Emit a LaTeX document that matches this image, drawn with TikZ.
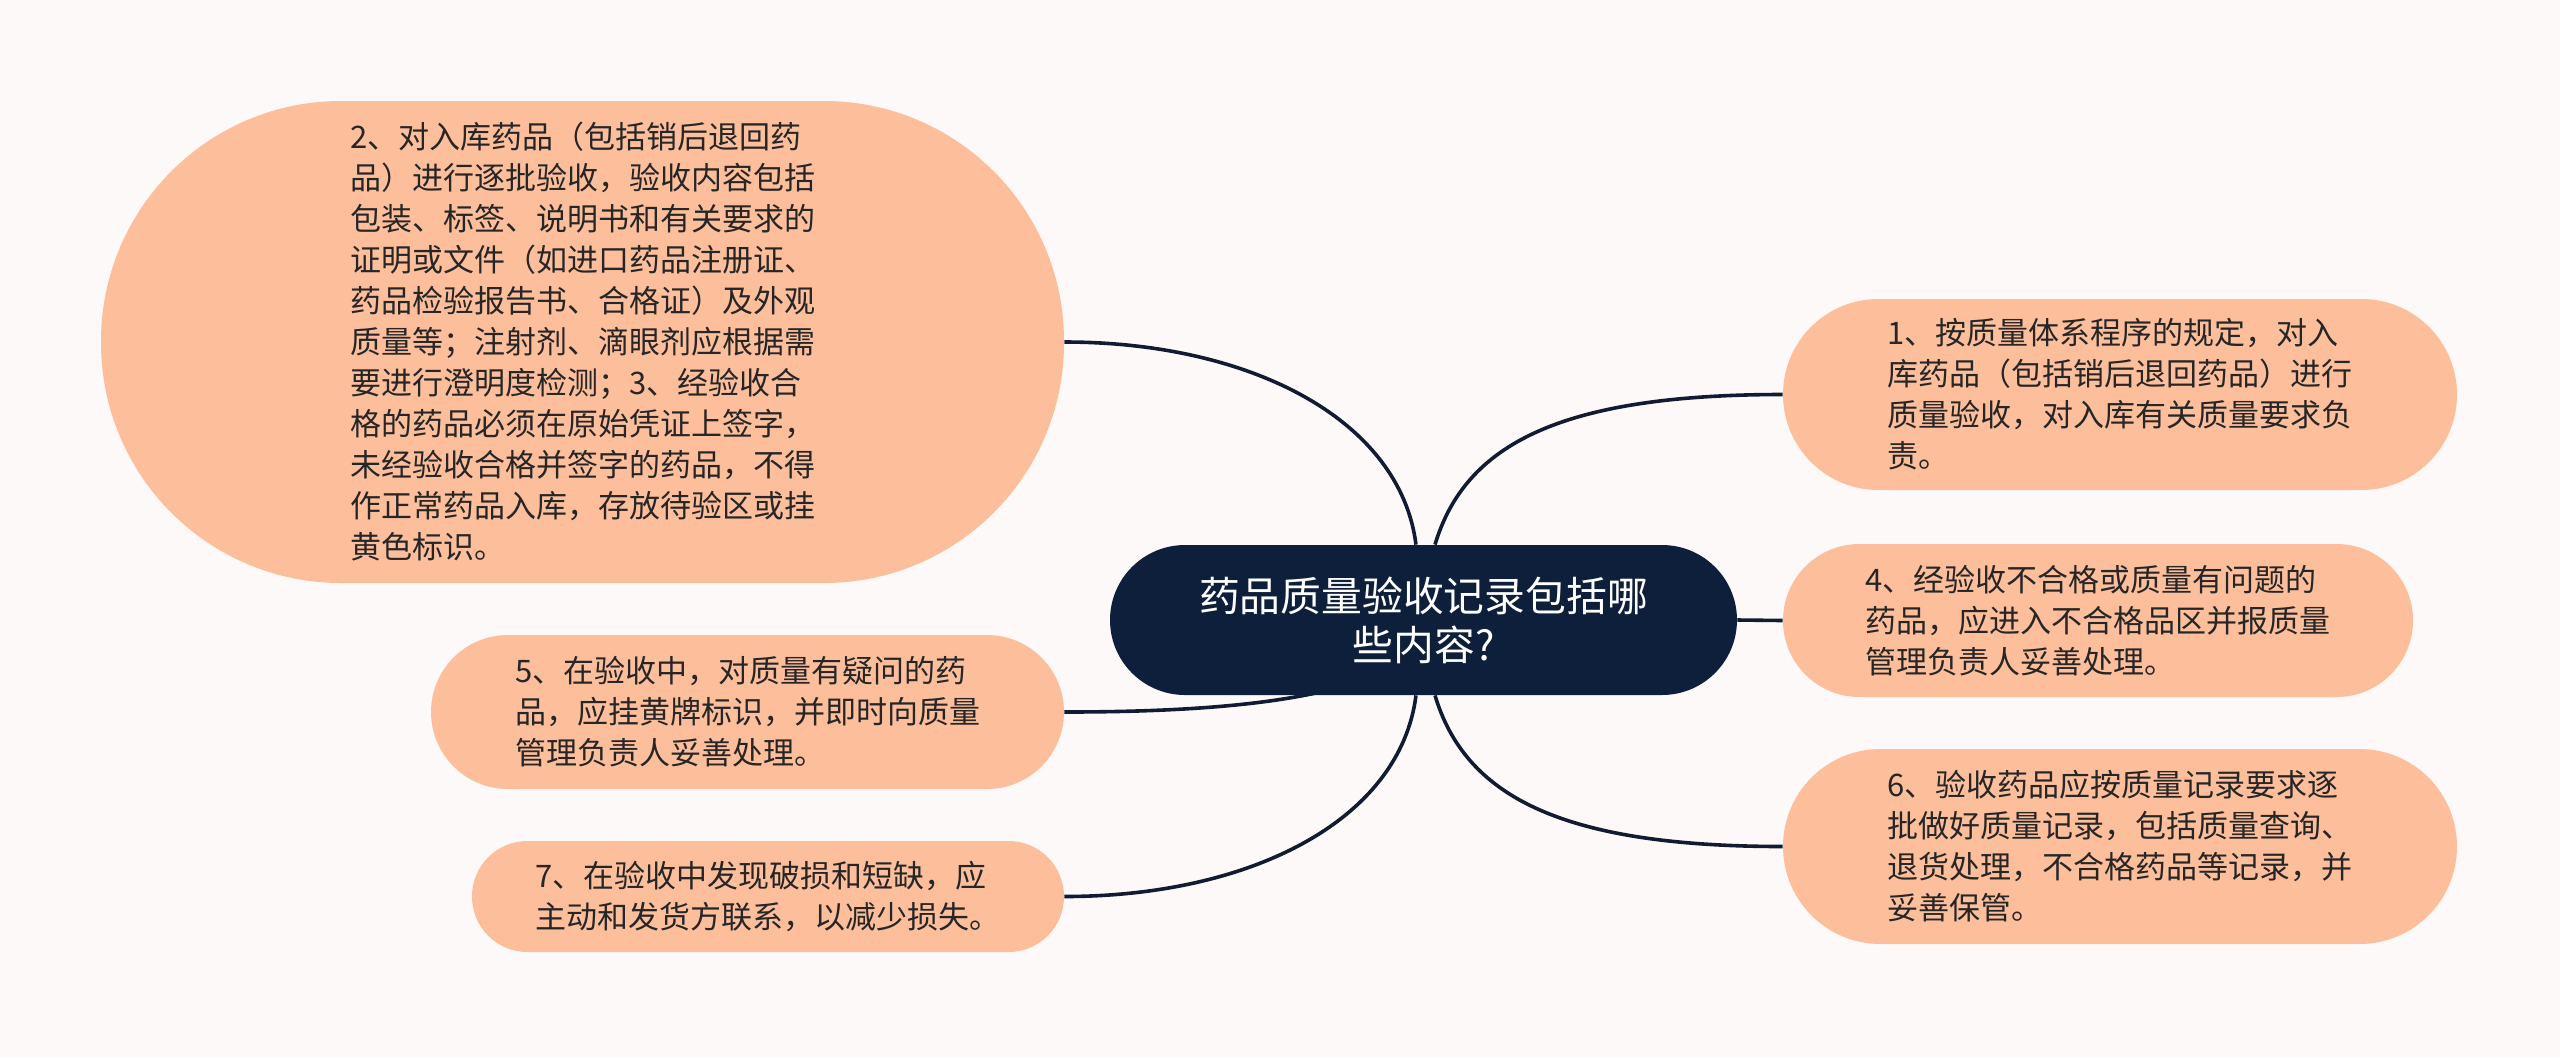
\documentclass[tikz,border=0pt]{standalone}
\usepackage{fontspec}
\newfontfamily\cjk{Noto Sans CJK SC}
\usetikzlibrary{backgrounds,calc}
\definecolor{bgc}{HTML}{FDF9F8}
\definecolor{peach}{HTML}{FDBE9C}
\definecolor{navy}{HTML}{0E1F3B}
\definecolor{linec}{HTML}{111C33}
\definecolor{txt}{HTML}{262626}
\begin{document}
\begin{tikzpicture}[x=0.5pt,y=-0.5pt,
  leaf/.style={rectangle, fill=peach, inner sep=0pt, align=left, text=txt,
    font=\cjk\fontsize{15.5}{20.5}\selectfont},
  root/.style={rectangle, fill=navy, inner sep=0pt, align=center, text=white,
    font=\cjk\fontsize{20.4}{24.5}\selectfont,
    minimum width=313.5pt, minimum height=75pt, rounded corners=37.5pt},
  link/.style={draw=linec, line width=1.8pt}]
\useasboundingbox (0,0) rectangle (2560,1057);

\node[root] (c) at (1423.5,620) {药品质量验收记录包括哪\\些内容?};

\node[leaf, minimum width=481.5pt, minimum height=241pt, rounded corners=120pt] (n2) at (582.5,342)
{2、对入库药品（包括销后退回药\\品）进行逐批验收，验收内容包括\\包装、标签、说明书和有关要求的\\证明或文件（如进口药品注册证、\\药品检验报告书、合格证）及外观\\质量等；注射剂、滴眼剂应根据需\\要进行澄明度检测；3、经验收合\\格的药品必须在原始凭证上签字，\\未经验收合格并签字的药品，不得\\作正常药品入库，存放待验区或挂\\黄色标识。};

\node[leaf, minimum width=337pt, minimum height=95.5pt, rounded corners=47.7pt] (n1) at (2120,394.5)
{1、按质量体系程序的规定，对入\\库药品（包括销后退回药品）进行\\质量验收，对入库有关质量要求负\\责。};

\node[leaf, minimum width=315pt, minimum height=76.5pt, rounded corners=38.2pt] (n4) at (2098,620.5)
{4、经验收不合格或质量有问题的\\药品，应进入不合格品区并报质量\\管理负责人妥善处理。};

\node[leaf, minimum width=337pt, minimum height=97.5pt, rounded corners=48.7pt] (n6) at (2120,846.5)
{6、验收药品应按质量记录要求逐\\批做好质量记录，包括质量查询、\\退货处理，不合格药品等记录，并\\妥善保管。};

\node[leaf, minimum width=316.5pt, minimum height=77pt, rounded corners=38.5pt] (n5) at (747.5,712)
{5、在验收中，对质量有疑问的药\\品，应挂黄牌标识，并即时向质量\\管理负责人妥善处理。};

\node[leaf, minimum width=296pt, minimum height=55.5pt, rounded corners=27.7pt] (n7) at (768,896.5)
{7、在验收中发现破损和短缺，应\\主动和发货方联系，以减少损失。};

\begin{scope}[on background layer]
\fill[bgc] (0,0) rectangle (2560,1057);
\draw[link] ($(c.north)+(-7.5,0)$) .. controls +(-16,-125) and +(186,0) .. (n2.east);
\draw[link] ($(c.north)+(11.5,0)$) .. controls +(30,-100) and +(-223,0) .. (n1.west);
\draw[link] (c.east) -- (n4.west);
\draw[link] ($(c.south)+(11.5,0)$) .. controls +(30,100) and +(-223,0) .. (n6.west);
\draw[link] ($(c.center)+(-3.5,30)$) .. controls +(-60,50) and +(156,0) .. (n5.east);
\draw[link] ($(c.south)+(-7.5,0)$) .. controls +(-16,125) and +(186,0) .. (n7.east);
\end{scope}
\end{tikzpicture}
\end{document}
